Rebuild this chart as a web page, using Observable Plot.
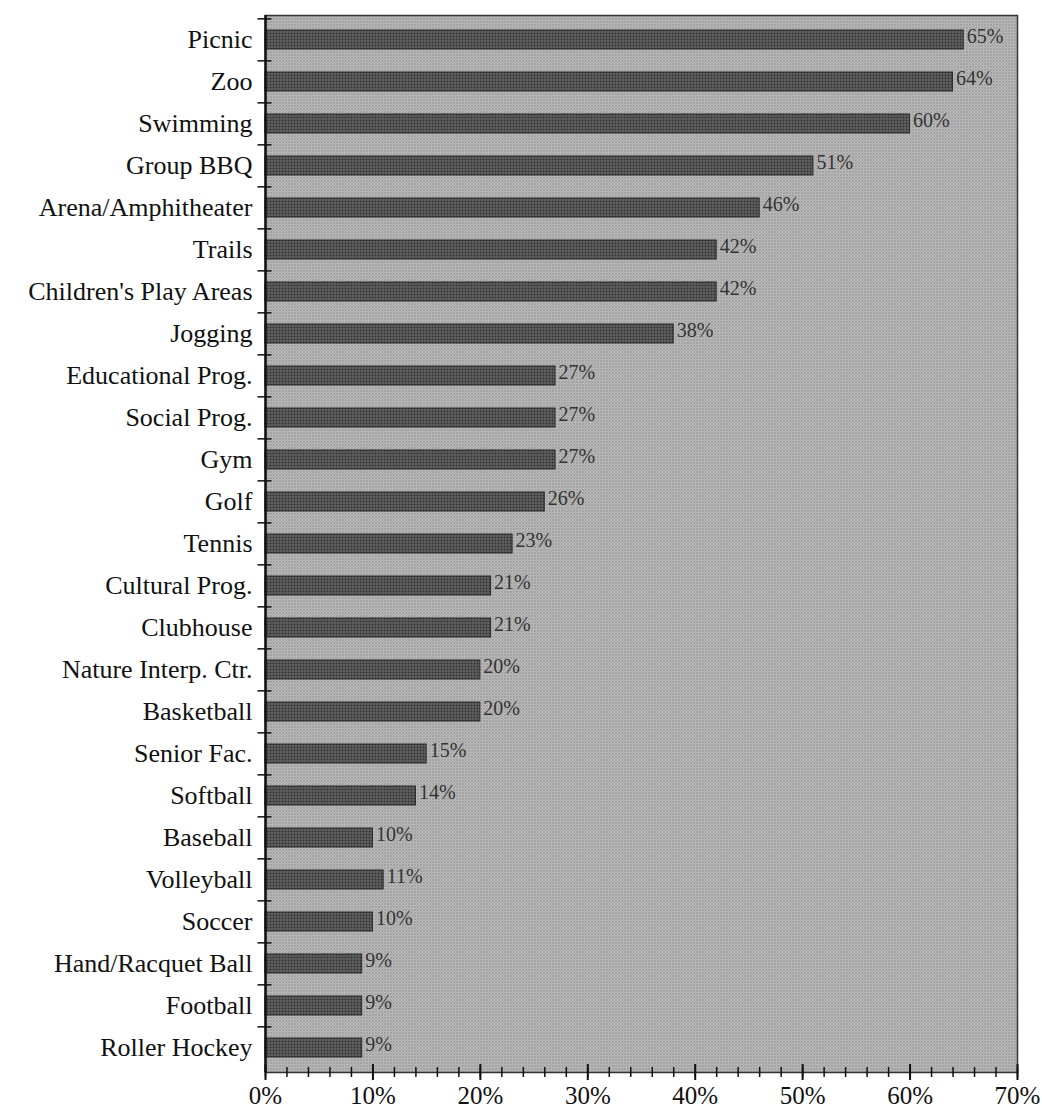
<!DOCTYPE html>
<html>
<head>
<meta charset="utf-8">
<script src="https://cdn.jsdelivr.net/npm/d3@7"></script>
<script src="https://cdn.jsdelivr.net/npm/@observablehq/plot@0.6"></script>
<style>
  html, body { margin: 0; padding: 0; background: #fff; }
</style>
</head>
<body>
<div id="chart"></div>
<script>
const categories = [
  "Picnic", "Zoo", "Swimming", "Group BBQ", "Arena/Amphitheater", "Trails",
  "Children's Play Areas", "Jogging", "Educational Prog.", "Social Prog.", "Gym",
  "Golf", "Tennis", "Cultural Prog.", "Clubhouse", "Nature Interp. Ctr.",
  "Basketball", "Senior Fac.", "Softball", "Baseball", "Volleyball", "Soccer",
  "Hand/Racquet Ball", "Football", "Roller Hockey"
];
const values = [65, 64, 60, 51, 46, 42, 42, 38, 27, 27, 27, 26, 23, 21, 21, 20, 20, 15, 14, 10, 11, 10, 9, 9, 9];
const xTicks = [0, 10, 20, 30, 40, 50, 60, 70];
const xMinorTicks = d3.range(0, 71, 2);

const data = categories.map((name, i) => ({name, value: values[i]}));

const W = 1042, H = 1117;
const mTop = 15, mBottom = 45, mLeft = 265, mRight = 25;
const innerH = H - mTop - mBottom;
const step = innerH / categories.length;

const chart = Plot.plot({
  width: W,
  height: H,
  marginTop: mTop,
  marginBottom: mBottom,
  marginLeft: mLeft,
  marginRight: mRight,
  style: {fontFamily: "'Liberation Serif', 'Times New Roman', serif", fontSize: "26px", background: "#fff", color: "#111"},
  x: {domain: [0, 70]},
  y: {domain: categories, paddingInner: 0.55, paddingOuter: 0.275},
  marks: [
    Plot.frame({fill: "url(#bgPat)", stroke: "#333", strokeWidth: 1.5}),
    Plot.barX(data, {x: "value", y: "name", fill: "url(#barPat)", stroke: "#2a2a2a", strokeWidth: 1}),
    Plot.text(data, {x: "value", y: "name", text: d => d.value + "%", textAnchor: "start", dx: 3, dy: -3, fontSize: 20, fill: "#333"}),
    Plot.ruleX([0], {stroke: "#111", strokeWidth: 2.5}),
    Plot.ruleY(categories, {y: d => d, x1: -0.7, x2: 0.6, dy: -step / 2, stroke: "#111", strokeWidth: 1.5}),
    Plot.tickX(xMinorTicks, {x: d => d, insetTop: innerH - 5, insetBottom: -5, stroke: "#111", strokeWidth: 1.5}),
    Plot.tickX(xTicks, {x: d => d, insetTop: innerH - 8, insetBottom: -8, stroke: "#111", strokeWidth: 2}),
    Plot.axisX(xTicks, {tickSize: 0, tickPadding: 14, tickFormat: d => d + "%", fontSize: 25, label: null}),
    Plot.axisY({tickSize: 0, tickPadding: 13, fontSize: 26, label: null})
  ]
});

const defs = d3.select(chart).insert("defs", ":first-child");
const bg = defs.append("pattern").attr("id", "bgPat").attr("patternUnits", "userSpaceOnUse").attr("width", 3).attr("height", 3);
bg.append("rect").attr("width", 3).attr("height", 3).attr("fill", "#c6c6c6");
bg.append("rect").attr("x", 0).attr("y", 0).attr("width", 1).attr("height", 1).attr("fill", "#555");
bg.append("rect").attr("x", 1.5).attr("y", 1.5).attr("width", 1).attr("height", 1).attr("fill", "#606060");
const bp = defs.append("pattern").attr("id", "barPat").attr("patternUnits", "userSpaceOnUse").attr("width", 3).attr("height", 3);
bp.append("rect").attr("width", 3).attr("height", 3).attr("fill", "#505050");
bp.append("rect").attr("x", 0).attr("y", 0).attr("width", 1).attr("height", 1).attr("fill", "#2a2a2a");
bp.append("rect").attr("x", 1.5).attr("y", 1.5).attr("width", 1).attr("height", 1).attr("fill", "#7e7e7e");

document.getElementById("chart").appendChild(chart);
</script>
</body>
</html>
